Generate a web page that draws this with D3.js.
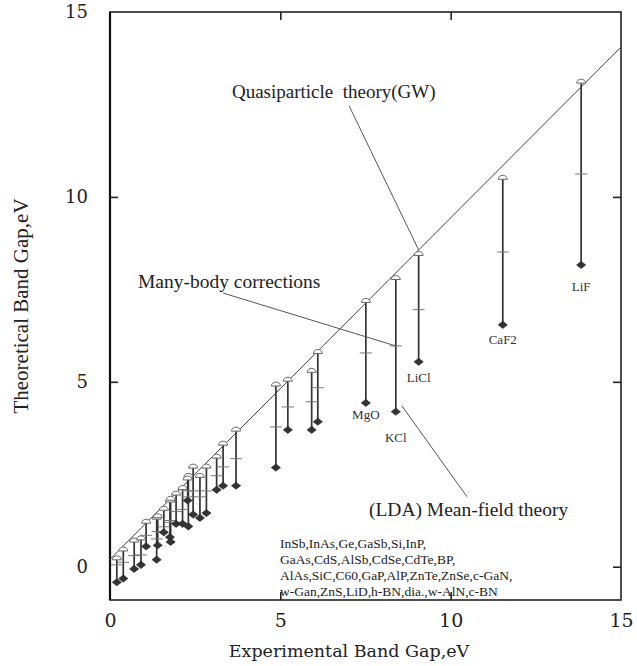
<!DOCTYPE html>
<html>
<head>
<meta charset="utf-8">
<script src="https://cdn.jsdelivr.net/npm/d3@7"></script>
<style>
  html, body { margin: 0; padding: 0; background: #fff; }
  svg { display: block; }
  text { white-space: pre; }
</style>
</head>
<body>
<script>
// Experimental gap of each material (eV)
const expGap = [0.20, 0.39, 0.71, 0.91, 1.06, 1.37, 1.40, 1.58, 1.76, 1.78,
                1.94, 2.13, 2.30, 2.28, 2.44, 2.64, 2.83, 3.13, 3.32, 3.70,
                4.87, 5.22, 5.92, 6.10, 7.51, 8.39, 9.06, 11.53, 13.83];
// Quasiparticle (GW) gap – open markers at the top of each stem
const gwGap = [0.20, 0.44, 0.68, 0.74, 1.19, 1.30, 1.34, 1.54, 1.76, 1.81,
               1.95, 2.10, 2.43, 2.36, 2.68, 2.43, 2.68, 2.95, 3.30, 3.68,
               4.90, 5.03, 5.27, 5.78, 7.16, 7.78, 8.43, 10.49, 13.09];
// Intermediate many-body estimate – short horizontal ticks
const midGap = [0.05, 0.12, 0.30, 0.32, 0.85, 0.75, 0.95, 1.08, 1.25, 1.20,
                1.49, 1.55, 1.89, 2.05, 2.05, 1.89, 2.05, 2.46, 2.70, 2.92,
                3.78, 4.32, 4.46, 4.84, 5.78, 5.97, 6.95, 8.51, 10.62];
// Mean-field (LDA) gap – filled diamonds
const ldaGap = [-0.42, -0.32, -0.06, 0.05, 0.55, 0.19, 0.58, 0.93, 0.80, 0.67,
                1.16, 1.16, 1.09, 1.79, 1.41, 1.32, 1.45, 2.08, 2.19, 2.19,
                2.68, 3.70, 3.70, 3.92, 4.43, 4.19, 5.54, 6.54, 8.16];
const pointLabels = ["", "", "", "", "", "", "", "", "", "",
                     "", "", "", "", "", "", "", "", "", "",
                     "", "", "", "", "MgO", "KCl", "LiCl", "CaF2", "LiF"];

// Reference line through the data
const refX = [0, 15];
const refY = [0.2, 14.05];

const xTicks = [0, 5, 10, 15];
const yTicks = [0, 5, 10, 15];
const xTickLabels = ["0", "5", "10", "15"];
const yTickLabels = ["0", "5", "10", "15"];

const materialList = [
  "InSb,InAs,Ge,GaSb,Si,InP,",
  "GaAs,CdS,AlSb,CdSe,CdTe,BP,",
  "AlAs,SiC,C60,GaP,AlP,ZnTe,ZnSe,c-GaN,",
  "w-Gan,ZnS,LiD,h-BN,dia.,w-AlN,c-BN"
];

const xTitle = "Experimental Band Gap,eV";
const yTitle = "Theoretical Band Gap,eV";

const W = 637, H = 666;
const svg = d3.select("body").append("svg").attr("width", W).attr("height", H);
svg.append("rect").attr("width", W).attr("height", H).attr("fill", "#fff");

const x = d3.scaleLinear().domain([0, 15]).range([110, 621]);
const y = d3.scaleLinear().domain([-0.9, 15]).range([600, 12]);

const serif = "'Liberation Serif', 'Times New Roman', serif";
const wideSerif = "'DejaVu Serif', serif";

// axes with inward ticks
const gL = svg.append("g").attr("transform", `translate(${x(0)},0)`)
  .call(d3.axisLeft(y).tickValues(yTicks).tickSizeInner(-8).tickSizeOuter(0)
        .tickPadding(22).tickFormat((d, i) => yTickLabels[i]));
gL.selectAll(".tick").filter(d => d === 0 || d === 15).select("line").remove();
const gB = svg.append("g").attr("transform", `translate(0,${y(-0.9)})`)
  .call(d3.axisBottom(x).tickValues(xTicks).tickSizeInner(-8).tickSizeOuter(0)
        .tickPadding(14).tickFormat((d, i) => xTickLabels[i]));
gB.selectAll(".tick").filter(d => d === 0 || d === 15).select("line").remove();
svg.append("g").attr("transform", `translate(0,${y(15)})`)
  .call(d3.axisTop(x).tickValues([5, 10]).tickSizeInner(-8).tickSizeOuter(0).tickFormat(""));
svg.append("g").attr("transform", `translate(${x(15)},0)`)
  .call(d3.axisRight(y).tickValues([0, 5, 10]).tickSizeInner(-8).tickSizeOuter(0).tickFormat(""));

svg.selectAll(".domain").remove();
svg.selectAll(".tick line").attr("stroke", "#222").attr("stroke-width", 1.6);
svg.selectAll(".tick text").attr("font-family", wideSerif).attr("font-size", 18)
  .attr("fill", "#222");
gB.selectAll(".tick text").attr("font-size", 19);

// frame
svg.append("rect")
  .attr("x", x(0)).attr("y", y(15))
  .attr("width", x(15) - x(0)).attr("height", y(-0.9) - y(15))
  .attr("fill", "none").attr("stroke", "#222").attr("stroke-width", 1.6);
svg.append("line").attr("x1", x(0)).attr("x2", x(0)).attr("y1", y(15)).attr("y2", y(-0.9))
  .attr("stroke", "#111").attr("stroke-width", 2.2);

// axis titles
svg.append("text").attr("x", 349).attr("y", 657)
  .attr("text-anchor", "middle").attr("font-family", wideSerif).attr("font-size", 17.5)
  .attr("fill", "#222").text(xTitle);
svg.append("text")
  .attr("transform", `translate(28,${(y(15) + y(-0.9)) / 2}) rotate(-90)`)
  .attr("text-anchor", "middle").attr("font-family", serif).attr("font-size", 21)
  .attr("fill", "#222").text(yTitle);

// reference line
const line = d3.line().x(d => x(d[0])).y(d => y(d[1]));
svg.append("path").datum(d3.zip(refX, refY)).attr("d", line)
  .attr("fill", "none").attr("stroke", "#444").attr("stroke-width", 1);

const pts = expGap.map((e, i) => ({ e, gw: gwGap[i], mid: midGap[i], lda: ldaGap[i], label: pointLabels[i] }));

// stems
svg.append("g").selectAll("line").data(pts).join("line")
  .attr("x1", d => x(d.e)).attr("x2", d => x(d.e))
  .attr("y1", d => y(d.gw)).attr("y2", d => y(d.lda))
  .attr("stroke", "#333").attr("stroke-width", 1.7);

// intermediate ticks
svg.append("g").selectAll("line").data(pts).join("line")
  .attr("x1", d => x(d.e) - 6).attr("x2", d => x(d.e) + 6)
  .attr("y1", d => y(d.mid)).attr("y2", d => y(d.mid))
  .attr("stroke", "#777").attr("stroke-width", 1);

// LDA diamonds
svg.append("g").selectAll("path").data(pts).join("path")
  .attr("transform", d => `translate(${x(d.e)},${y(d.lda)})`)
  .attr("d", "M0,-3.6L4.6,0L0,3.6L-4.6,0Z")
  .attr("fill", "#333").attr("stroke", "#222").attr("stroke-width", 0.6);

// GW open markers
svg.append("g").selectAll("path").data(pts).join("path")
  .attr("transform", d => `translate(${x(d.e)},${y(d.gw)})`)
  .attr("d", "M-4.5,0.5A4.5,4 0 0 1 4.5,0.5Z")
  .attr("fill", "#fff").attr("stroke", "#666").attr("stroke-width", 1);

// material labels below their diamonds
const labelDy = { "MgO": 16, "KCl": 30, "LiCl": 20, "CaF2": 19, "LiF": 26 };
svg.append("g").selectAll("text").data(pts.filter(d => d.label)).join("text")
  .attr("x", d => x(d.e)).attr("y", d => y(d.lda) + labelDy[d.label])
  .attr("text-anchor", "middle").attr("font-family", serif).attr("font-size", 13)
  .attr("fill", "#333").text(d => d.label);

// annotations with leader lines (anchors in data units)
const kcl = pts[25], licl = pts[26];
const ann = svg.append("g").attr("font-family", serif).attr("fill", "#222");
ann.append("text").attr("x", x(3.58)).attr("y", y(12.68)).attr("font-size", 19)
  .text("Quasiparticle  theory(GW)");
ann.append("line").attr("x1", x(7.02)).attr("y1", y(12.46))
  .attr("x2", x(licl.e)).attr("y2", y(refY[0] + (refY[1] - refY[0]) * licl.e / 15))
  .attr("stroke", "#555").attr("stroke-width", 1);
ann.append("text").attr("x", x(0.82)).attr("y", y(7.54)).attr("font-size", 19.5)
  .text("Many-body corrections");
ann.append("line").attr("x1", x(3.32)).attr("y1", y(7.40))
  .attr("x2", x(kcl.e)).attr("y2", y(kcl.mid))
  .attr("stroke", "#555").attr("stroke-width", 1);
ann.append("text").attr("x", x(7.60)).attr("y", y(1.37)).attr("font-size", 19.5)
  .text("(LDA) Mean-field theory");
ann.append("line").attr("x1", x(10.48)).attr("y1", y(1.89))
  .attr("x2", x(kcl.e) + 6).attr("y2", y(kcl.lda) - 6)
  .attr("stroke", "#555").attr("stroke-width", 1);

// list of the small-gap materials
const list = ann.append("text").attr("x", x(4.99)).attr("y", y(0.51)).attr("font-size", 13.5);
list.selectAll("tspan").data(materialList).join("tspan")
  .attr("x", x(4.99)).attr("dy", (d, i) => i === 0 ? 0 : 16).text(d => d);
</script>
</body>
</html>
